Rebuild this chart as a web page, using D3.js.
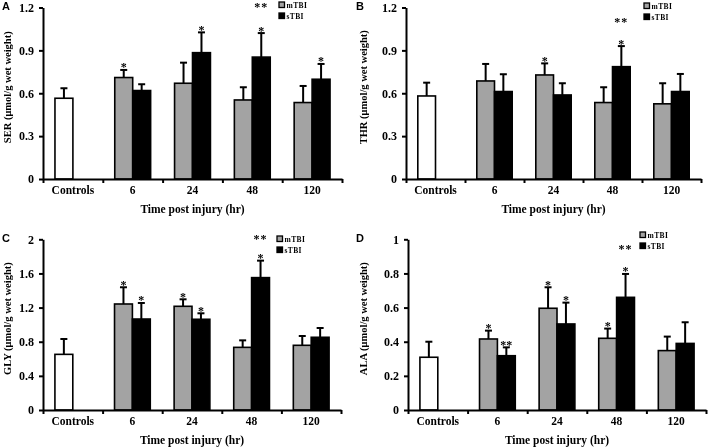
<!DOCTYPE html>
<html><head><meta charset="utf-8">
<script src="https://cdn.jsdelivr.net/npm/d3@7"></script>
<style>body{margin:0;background:#fff}svg{display:block;filter:grayscale(1)}</style>
</head><body>
<svg id="c" width="709" height="447"></svg>
<script>
// ---------- data ----------
const categories = ["Controls", "6", "24", "48", "120"];
const groups = ["mTBI", "sTBI"];

const serControl = [0.565, 0.07];
const serM = [0.71, 0.67, 0.553, 0.535];
const serMErr = [0.053, 0.144, 0.089, 0.116];
const serS = [0.619, 0.884, 0.853, 0.698];
const serSErr = [0.044, 0.142, 0.168, 0.107];
const serMStar = ["*", "", "", ""];
const serSStar = ["", "*", "*", "*"];

const thrControl = [0.581, 0.093];
const thrM = [0.686, 0.728, 0.535, 0.526];
const thrMErr = [0.119, 0.081, 0.107, 0.144];
const thrS = [0.612, 0.588, 0.786, 0.612];
const thrSErr = [0.121, 0.082, 0.144, 0.123];
const thrMStar = ["", "*", "", ""];
const thrSStar = ["", "", "*", ""];

const glyControl = [0.652, 0.18];
const glyM = [1.242, 1.215, 0.734, 0.758];
const glyMErr = [0.196, 0.082, 0.082, 0.109];
const glyS = [1.066, 1.063, 1.551, 0.852];
const glySErr = [0.188, 0.07, 0.199, 0.109];
const glyMStar = ["*", "*", "", ""];
const glySStar = ["*", "*", "*", ""];

const alaControl = [0.309, 0.091];
const alaM = [0.416, 0.596, 0.42, 0.348];
const alaMErr = [0.049, 0.123, 0.057, 0.082];
const alaS = [0.318, 0.504, 0.66, 0.39];
const alaSErr = [0.049, 0.125, 0.137, 0.124];
const alaMStar = ["*", "*", "*", ""];
const alaSStar = ["**", "*", "*", ""];

const ticksAB = [0, 0.3, 0.6, 0.9, 1.2];
const ticksC = [0, 0.4, 0.8, 1.2, 1.6, 2];
const ticksD = [0, 0.2, 0.4, 0.6, 0.8, 1];

const xTitle = "Time post injury (hr)";

// ---------- layout ----------
const panels = [
  {letter:"A", name:"SER", ctrl:serControl, m:serM, me:serMErr, s:serS, se:serSErr, ms:serMStar, ss:serSStar,
   ticks:ticksAB, max:1.2, x0:43, x1:342, yb:179, yt:7.5, lx:0, ly:0, ttlX:8.5, dsY:11, legX:279, legY:2},
  {letter:"B", name:"THR", ctrl:thrControl, m:thrM, me:thrMErr, s:thrS, se:thrSErr, ms:thrMStar, ss:thrSStar,
   ticks:ticksAB, max:1.2, x0:406, x1:701, yb:179, yt:7.5, lx:354, ly:0, ttlX:365, dsY:26, legX:644, legY:3},
  {letter:"C", name:"GLY", ctrl:glyControl, m:glyM, me:glyMErr, s:glyS, se:glySErr, ms:glyMStar, ss:glySStar,
   ticks:ticksC, max:2, x0:43, x1:341, yb:410, yt:239.3, lx:0, ly:232, ttlX:8.5, dsY:243, legX:277, legY:236},
  {letter:"D", name:"ALA", ctrl:alaControl, m:alaM, me:alaMErr, s:alaS, se:alaSErr, ms:alaMStar, ss:alaSStar,
   ticks:ticksD, max:1, x0:408, x1:706, yb:410, yt:239.3, lx:354, ly:232, ttlX:365, dsY:253, legX:640, legY:232}
];

const svg = d3.select("#c");
const serif = "'Liberation Serif','Times New Roman',serif";
const sans = "'Liberation Sans',Arial,sans-serif";
const GRAY = "#a3a3a3";

panels.forEach(p => {
  const g = svg.append("g");
  const x = d3.scaleBand().domain(categories).range([p.x0, p.x1]).paddingInner(0).paddingOuter(0);
  const xs = d3.scaleBand().domain(groups).range([0, x.bandwidth()]).paddingInner(0).paddingOuter(0.667);
  const y = d3.scaleLinear().domain([0, p.max]).range([p.yb, p.yt]);

  const bars = [{cat:"Controls", grp:"mTBI", v:p.ctrl[0], e:p.ctrl[1], fill:"#fff", star:""}];
  categories.slice(1).forEach((c, i) => {
    bars.push({cat:c, grp:"mTBI", v:p.m[i], e:p.me[i], fill:GRAY, star:p.ms[i]});
    bars.push({cat:c, grp:"sTBI", v:p.s[i], e:p.se[i], fill:"#000", star:p.ss[i]});
  });
  const cx = d => x(d.cat) + xs(d.grp) + xs.bandwidth() / 2;

  // error bars
  const eb = g.selectAll(".eb").data(bars).enter().append("g");
  eb.append("line")
    .attr("x1", cx).attr("x2", cx)
    .attr("y1", d => y(d.v)).attr("y2", d => y(d.v + d.e))
    .attr("stroke", "#000").attr("stroke-width", 2);
  eb.append("line")
    .attr("x1", d => cx(d) - 3.5).attr("x2", d => cx(d) + 3.5)
    .attr("y1", d => y(d.v + d.e)).attr("y2", d => y(d.v + d.e))
    .attr("stroke", "#000").attr("stroke-width", 2);

  // bars
  g.selectAll(".bar").data(bars).enter().append("rect")
    .attr("x", d => x(d.cat) + xs(d.grp))
    .attr("width", xs.bandwidth())
    .attr("y", d => y(d.v))
    .attr("height", d => y(0) - y(d.v))
    .attr("fill", d => d.fill)
    .attr("stroke", "#000").attr("stroke-width", 1.6);

  // stars
  g.selectAll(".star").data(bars.filter(d => d.star)).enter().append("text")
    .attr("x", cx)
    .attr("y", d => y(d.v + d.e) + 1.5)
    .attr("text-anchor", "middle").attr("fill", "#000")
    .attr("font-family", serif).attr("font-weight", "bold").attr("font-size", 12)
    .text(d => d.star);

  // double star above 48 sTBI
  g.append("text")
    .attr("x", cx({cat:"48", grp:"sTBI"}))
    .attr("y", p.dsY)
    .attr("text-anchor", "middle").attr("fill", "#000")
    .attr("font-family", serif).attr("font-weight", "bold").attr("font-size", 12)
    .attr("letter-spacing", 1)
    .text("**");

  // y axis
  const ya = g.append("g").attr("transform", `translate(${p.x0},0)`)
    .call(d3.axisLeft(y).tickValues(p.ticks).tickFormat(d => String(d)).tickSize(4).tickSizeOuter(0).tickPadding(5));
  ya.select(".domain").attr("stroke-width", 2);
  ya.selectAll(".tick line").attr("stroke-width", 2);
  ya.selectAll("text").attr("font-family", serif).attr("font-weight", "bold").attr("font-size", 12).attr("fill", "#000");

  // x axis
  const xb = d3.scaleLinear().domain([0, categories.length]).range([p.x0, p.x1]);
  const xa = g.append("g").attr("transform", `translate(0,${p.yb})`)
    .call(d3.axisBottom(xb).tickValues(d3.range(categories.length + 1)).tickFormat("").tickSize(4).tickSizeOuter(0));
  xa.select(".domain").attr("stroke-width", 2);
  xa.selectAll(".tick line").attr("stroke-width", 2);
  const xl = g.append("g").attr("transform", `translate(0,${p.yb})`)
    .call(d3.axisBottom(x).tickSize(0).tickPadding(7));
  xl.select(".domain").remove();
  xl.selectAll("text").attr("font-family", serif).attr("font-weight", "bold").attr("font-size", 11.5).attr("fill", "#000");

  // axis titles
  g.append("text")
    .attr("x", (p.x0 + p.x1) / 2).attr("y", p.yb + 34)
    .attr("text-anchor", "middle")
    .attr("font-family", serif).attr("font-weight", "bold").attr("font-size", 11.5)
    .text(xTitle);
  g.append("text")
    .attr("transform", `translate(${p.ttlX},${(p.yb + p.yt) / 2 - 6}) rotate(-90)`)
    .attr("text-anchor", "middle").attr("dominant-baseline", "middle")
    .attr("font-family", serif).attr("font-weight", "bold").attr("font-size", 10.5)
    .text(p.name + " (\u03bcmol/g wet weight)");

  // panel letter
  g.append("text").attr("x", p.lx + 2).attr("y", p.ly + 10)
    .attr("font-family", sans).attr("font-weight", "bold").attr("font-size", 11)
    .text(p.letter);

  // legend
  const leg = g.append("g").attr("transform", `translate(${p.legX},${p.legY})`);
  groups.forEach((gr, i) => {
    leg.append("rect").attr("x", 0).attr("y", i * 11).attr("width", 5.5).attr("height", 5.5)
      .attr("fill", gr === "mTBI" ? GRAY : "#000").attr("stroke", "#000").attr("stroke-width", 1.3);
    leg.append("text").attr("x", 7.5).attr("y", i * 11 + 5.8)
      .attr("font-family", serif).attr("font-weight", "bold").attr("font-size", 7.5)
      .attr("letter-spacing", 0.4)
      .text(gr);
  });
});
</script>
</body></html>
